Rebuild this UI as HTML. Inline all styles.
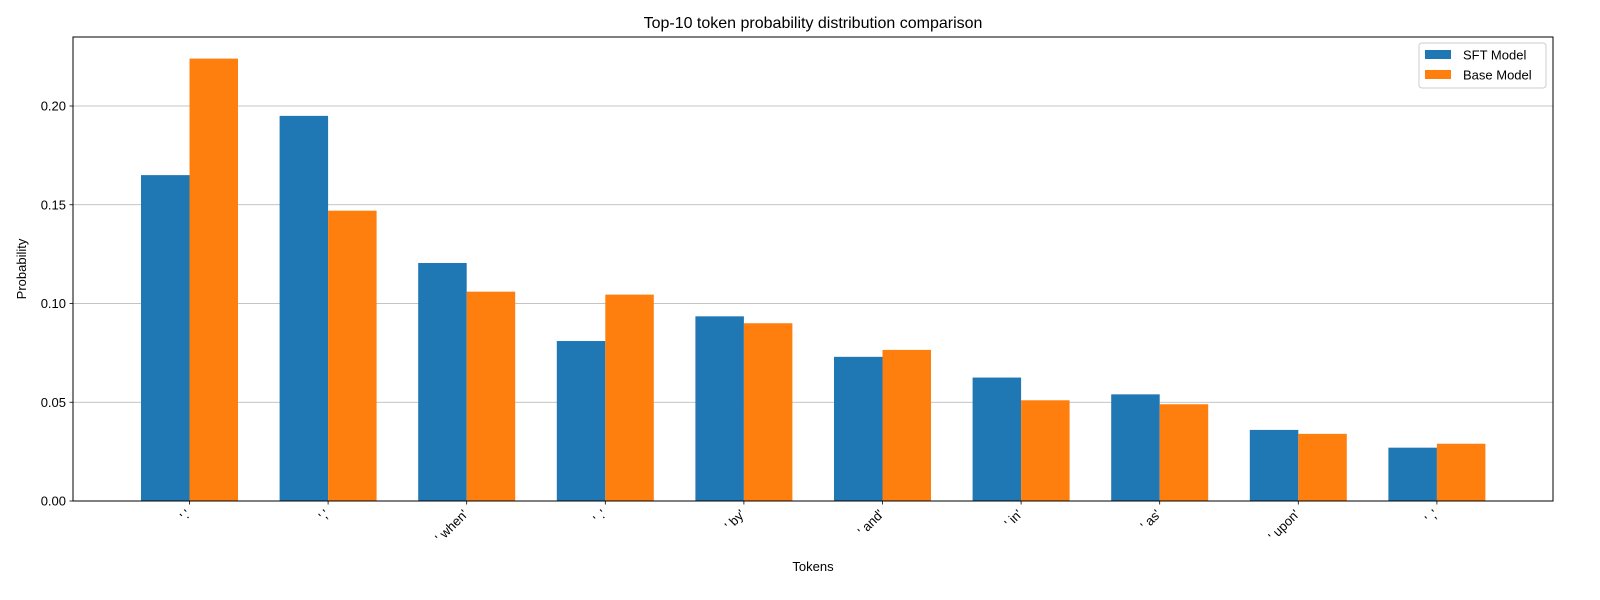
<!DOCTYPE html>
<html><head><meta charset="utf-8"><style>
html,body{margin:0;padding:0;background:#fff;font-family:"Liberation Sans","DejaVu Sans",sans-serif;overflow:hidden}
svg{display:block}
</style></head><body>
<svg id="c" width="1600" height="600" xmlns="http://www.w3.org/2000/svg"></svg>
<script>
const categories=["'.'","','","' when'","' .'","' by'","' and'","' in'","' as'","' upon'","' ,'"];
const sftValues=[0.165,0.195,0.1205,0.081,0.0935,0.073,0.0625,0.054,0.036,0.027];
const baseValues=[0.224,0.147,0.106,0.1045,0.090,0.0765,0.051,0.049,0.034,0.029];
const yTicks=[0,0.05,0.10,0.15,0.20];
const yTickLabels=["0.00","0.05","0.10","0.15","0.20"];
const seriesNames=["SFT Model","Base Model"];

const NS="http://www.w3.org/2000/svg";
const svg=document.getElementById('c');
const L=73,R=1553,T=37,B=501;
const y=v=>B-v*1975;
const x=i=>189.5+i*138.6;
const bw=48.5;
function mk(tag,attrs,parent){const e=document.createElementNS(NS,tag);for(const k in attrs)e.setAttribute(k,attrs[k]);(parent||svg).appendChild(e);return e;}

yTicks.forEach((t,i)=>{
  const g=mk('line',{x1:L,x2:R,y1:y(t),y2:y(t),stroke:'#b0b0b0','stroke-width':0.8});
  
  
  const tk=mk('line',{x1:L-3.5,x2:L,y1:y(t),y2:y(t),stroke:'#000','stroke-width':0.8});
  
  
  const tx=mk('text',{x:L-7,y:y(t)+4.5,'text-anchor':'end','font-size':13});
  tx.textContent=yTickLabels[i];
  
  
});
categories.forEach((c,i)=>{
  const b1=mk('rect',{x:x(i)-bw,y:y(sftValues[i]),width:bw,height:B-y(sftValues[i]),fill:'#1f77b4'});
  
  
  const b2=mk('rect',{x:x(i),y:y(baseValues[i]),width:bw,height:B-y(baseValues[i]),fill:'#ff7f0e'});
  
  
  const tk=mk('line',{x1:x(i),x2:x(i),y1:B,y2:B+3.5,stroke:'#000','stroke-width':0.8});
  
  
  const tx=mk('text',{x:x(i)+2,y:B+14,'text-anchor':'end','font-size':13,transform:`rotate(-45 ${x(i)+2} ${B+14})`});
  tx.textContent=c;
  
  
});
const fr=mk('rect',{x:L,y:T,width:R-L,height:B-T,fill:'none',stroke:'#000','stroke-width':1});


const ti=mk('text',{x:(L+R)/2,y:28,'text-anchor':'middle','font-size':16});
ti.textContent='Top-10 token probability distribution comparison';


const xl=mk('text',{x:(L+R)/2,y:571,'text-anchor':'middle','font-size':13});
xl.textContent='Tokens';


const yl=mk('text',{x:26,y:(T+B)/2,'text-anchor':'middle','font-size':13,transform:`rotate(-90 26 ${(T+B)/2})`});
yl.textContent='Probability';


const lg=mk('g',{});


mk('rect',{x:1419,y:43,width:127,height:45,fill:'#fff',stroke:'#ccc',rx:3},lg);
const cols=['#1f77b4','#ff7f0e'];
seriesNames.forEach((n,i)=>{
  const e=mk('g',{},lg);
  
  
  mk('rect',{x:1425,y:50+i*20,width:26,height:9,fill:cols[i]},e);
  const t=mk('text',{x:1463,y:59.5+i*20,'font-size':13},e);
  t.textContent=n;
});
</script>
</body></html>
